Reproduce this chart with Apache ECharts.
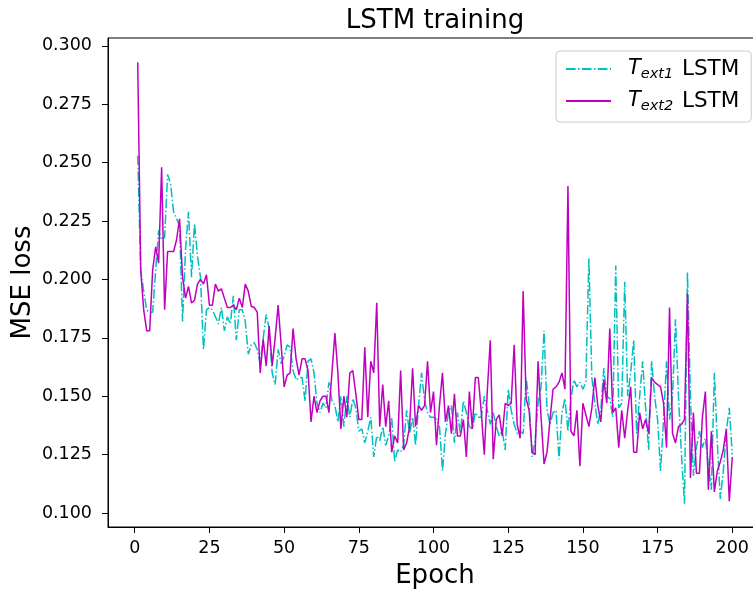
<!DOCTYPE html>
<html>
<head>
<meta charset="utf-8">
<script src="https://cdn.jsdelivr.net/npm/echarts@6/dist/echarts.min.js"></script>
<style>
  html, body { margin: 0; padding: 0; background: #fff; overflow: hidden; }
  #chart { width: 762px; height: 593px; }
</style>
</head>
<body>
<div id="chart"></div>
<script>
// loss per epoch (epochs 1..200)
var text1Loss = [
  0.253, 0.204, 0.195, 0.187, 0.186, 0.186, 0.204, 0.221, 0.217, 0.218,
  0.245, 0.241, 0.229, 0.226, 0.223, 0.182, 0.213, 0.229, 0.201, 0.224,
  0.210, 0.201, 0.170, 0.187, 0.188, 0.187, 0.184, 0.181, 0.188, 0.178,
  0.184, 0.181, 0.193, 0.174, 0.187, 0.187, 0.182, 0.168, 0.172, 0.173,
  0.170, 0.164, 0.175, 0.185, 0.179, 0.160, 0.155, 0.170, 0.164, 0.167,
  0.172, 0.171, 0.161, 0.157, 0.158, 0.158, 0.148, 0.165, 0.166, 0.160,
  0.147, 0.143, 0.147, 0.145, 0.156, 0.148, 0.146, 0.139, 0.150, 0.137,
  0.150, 0.141, 0.149, 0.145, 0.135, 0.136, 0.130, 0.135, 0.141, 0.124,
  0.133, 0.131, 0.137, 0.129, 0.133, 0.141, 0.122, 0.127, 0.126, 0.129,
  0.144, 0.134, 0.141, 0.129, 0.146, 0.160, 0.148, 0.143, 0.141, 0.141,
  0.140, 0.137, 0.118, 0.134, 0.143, 0.146, 0.130, 0.143, 0.134, 0.148,
  0.143, 0.137, 0.136, 0.143, 0.141, 0.141, 0.150, 0.144, 0.138, 0.143,
  0.137, 0.133, 0.135, 0.127, 0.153, 0.144, 0.138, 0.134, 0.135, 0.134,
  0.158, 0.147, 0.124, 0.131, 0.147, 0.154, 0.178, 0.144, 0.138, 0.143,
  0.144, 0.123, 0.143, 0.149, 0.135, 0.149, 0.157, 0.154, 0.156, 0.153,
  0.156, 0.209, 0.158, 0.147, 0.138, 0.144, 0.162, 0.150, 0.149, 0.141,
  0.206, 0.145, 0.147, 0.199, 0.150, 0.160, 0.174, 0.134, 0.150, 0.165,
  0.145, 0.127, 0.165, 0.150, 0.140, 0.118, 0.140, 0.165, 0.140, 0.150,
  0.183, 0.150, 0.125, 0.104, 0.203, 0.150, 0.116, 0.128, 0.135, 0.128,
  0.132, 0.120, 0.110, 0.160, 0.130, 0.106, 0.118, 0.135, 0.145, 0.125
];
var text2Loss = [
  0.293, 0.204, 0.187, 0.178, 0.178, 0.204, 0.214, 0.207, 0.248, 0.187,
  0.212, 0.212, 0.212, 0.217, 0.226, 0.201, 0.192, 0.197, 0.190, 0.191,
  0.198, 0.200, 0.198, 0.202, 0.189, 0.189, 0.198, 0.195, 0.196, 0.192,
  0.188, 0.188, 0.189, 0.187, 0.192, 0.188, 0.198, 0.195, 0.1885, 0.188,
  0.186, 0.160, 0.1745, 0.163, 0.180, 0.163, 0.175, 0.189, 0.172, 0.154,
  0.159, 0.160, 0.179, 0.166, 0.159, 0.166, 0.166, 0.161, 0.139, 0.150,
  0.143, 0.148, 0.150, 0.150, 0.143, 0.160, 0.177, 0.160, 0.136, 0.150,
  0.141, 0.160, 0.161, 0.151, 0.140, 0.140, 0.171, 0.141, 0.165, 0.160,
  0.190, 0.137, 0.155, 0.137, 0.148, 0.126, 0.133, 0.130, 0.161, 0.127,
  0.130, 0.137, 0.162, 0.137, 0.146, 0.144, 0.146, 0.165, 0.143, 0.152,
  0.129, 0.146, 0.160, 0.139, 0.146, 0.134, 0.151, 0.133, 0.133, 0.140,
  0.124, 0.152, 0.136, 0.158, 0.158, 0.143, 0.125, 0.152, 0.174, 0.123,
  0.140, 0.142, 0.133, 0.147, 0.146, 0.147, 0.172, 0.138, 0.132, 0.195,
  0.149, 0.144, 0.126, 0.125, 0.165, 0.141, 0.121, 0.126, 0.140, 0.153,
  0.154, 0.156, 0.160, 0.153, 0.240, 0.135, 0.133, 0.144, 0.120, 0.147,
  0.142, 0.137, 0.145, 0.158, 0.146, 0.139, 0.157, 0.147, 0.179, 0.143,
  0.145, 0.128, 0.144, 0.132, 0.144, 0.154, 0.126, 0.126, 0.143, 0.136,
  0.140, 0.134, 0.158, 0.156, 0.155, 0.154, 0.147, 0.128, 0.188, 0.134,
  0.130, 0.137, 0.138, 0.140, 0.194, 0.115, 0.143, 0.117, 0.117, 0.141,
  0.152, 0.110, 0.135, 0.109, 0.118, 0.122, 0.127, 0.136, 0.105, 0.124
];
var xTicks = [0, 25, 50, 75, 100, 125, 150, 175, 200];
var yTicks = [0.100, 0.125, 0.150, 0.175, 0.200, 0.225, 0.250, 0.275, 0.300];

function pairs(arr) {
  var out = [];
  for (var i = 0; i < arr.length; i++) {
    out.push([i + 1, arr[i]]);
  }
  return out;
}

var font = 'DejaVu Sans';
var myChart = echarts.init(document.getElementById('chart'));
myChart.setOption({
  animation: false,
  backgroundColor: '#fff',
  textStyle: { fontFamily: font },
  title: {
    text: 'LSTM training',
    left: 430,
    top: 3,
    textAlign: 'center',
    textStyle: { fontFamily: font, fontSize: 26, fontWeight: 'normal', color: '#000' }
  },
  legend: {
    left: 556,
    top: 51,
    orient: 'vertical',
    padding: [7, 12, 8, 9],
    itemGap: 8,
    itemWidth: 45,
    itemHeight: 14,
    borderColor: '#cccccc',
    borderWidth: 1,
    borderRadius: 4,
    backgroundColor: '#fff',
    itemStyle: { opacity: 0 },
    data: ['text1', 'text2'],
    formatter: function (name) {
      return name === 'text1' ? '{i|T}{s|ext1} {n|LSTM}' : '{i|T}{s|ext2} {n|LSTM}';
    },
    textStyle: {
      fontFamily: font,
      fontSize: 21,
      color: '#000',
      padding: [0, 0, 0, 12],
      rich: {
        i: { fontFamily: font, fontSize: 21, fontStyle: 'italic', color: '#000', lineHeight: 26 },
        s: { fontFamily: font, fontSize: 14.5, fontStyle: 'italic', color: '#000', verticalAlign: 'bottom', lineHeight: 14 },
        n: { fontFamily: font, fontSize: 21.5, color: '#000', lineHeight: 26, padding: [0, 0, 0, 2] }
      }
    }
  },
  grid: {
    left: 108,
    top: 38,
    width: 654,
    height: 489,
    show: true,
    borderColor: '#000',
    borderWidth: 1,
    containLabel: false,
    outerBoundsMode: 'none'
  },
  xAxis: {
    type: 'value',
    min: -8.95,
    max: 209.95,
    name: 'Epoch',
    nameLocation: 'middle',
    nameGap: 36,
    nameMoveOverlap: false,
    nameTextStyle: { fontFamily: font, fontSize: 26, color: '#000' },
    axisLine: { show: true, onZero: false, lineStyle: { color: '#000', width: 1 } },
    axisTick: { show: true, length: 6, customValues: xTicks, lineStyle: { color: '#000' } },
    axisLabel: { customValues: xTicks, margin: 12, fontFamily: font, fontSize: 17.5, color: '#000' },
    splitLine: { show: false }
  },
  yAxis: {
    type: 'value',
    min: 0.094,
    max: 0.3034,
    name: 'MSE loss',
    nameLocation: 'middle',
    nameGap: 72,
    nameMoveOverlap: false,
    nameRotate: 90,
    nameTextStyle: { fontFamily: font, fontSize: 26, color: '#000' },
    axisLine: { show: true, onZero: false, lineStyle: { color: '#000', width: 1 } },
    axisTick: { show: true, length: 6, customValues: yTicks, lineStyle: { color: '#000' } },
    axisLabel: {
      customValues: yTicks,
      margin: 16,
      fontFamily: font,
      fontSize: 17.5,
      color: '#000',
      formatter: function (v) { return v.toFixed(3); }
    },
    splitLine: { show: false }
  },
  series: [
    {
      name: 'text1',
      type: 'line',
      showSymbol: false,
      symbol: 'none',
      data: pairs(text1Loss),
      itemStyle: { color: '#00bfbf' },
      lineStyle: { color: '#00bfbf', width: 1.5, type: [9.6, 2.4, 1.5, 2.4] }
    },
    {
      name: 'text2',
      type: 'line',
      showSymbol: false,
      symbol: 'none',
      data: pairs(text2Loss),
      itemStyle: { color: '#bf00bf' },
      lineStyle: { color: '#bf00bf', width: 1.5 }
    }
  ]
});
</script>
</body>
</html>
